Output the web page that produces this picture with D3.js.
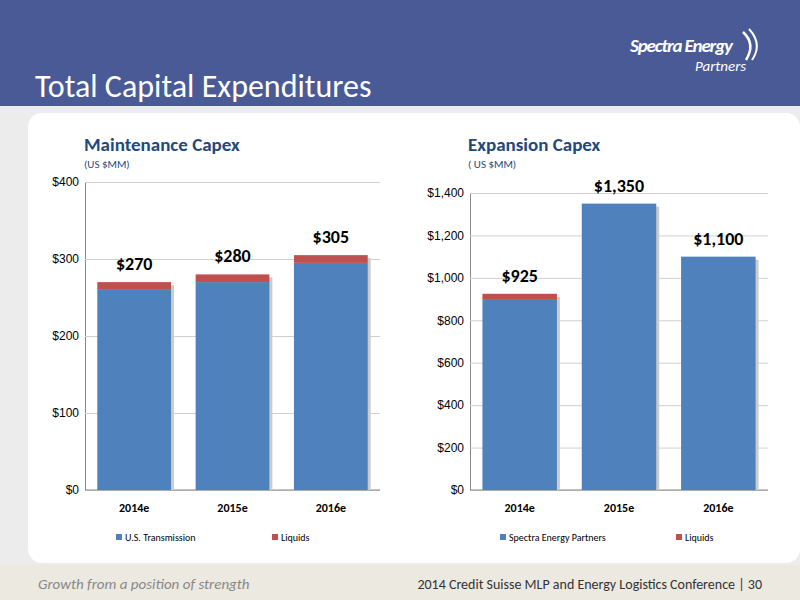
<!DOCTYPE html><html><head><meta charset="utf-8"><script src="https://cdn.jsdelivr.net/npm/d3@7"></script>
<style>body{margin:0}svg{font-family:Calibri,"Liberation Sans Narrow","Open Sans",sans-serif}</style></head><body><svg id="c" width="800" height="600"></svg>
<script>
const years=["2014e","2015e","2016e"];
const maintTrans=[260,270,295], maintLiq=[10,10,10], maintTot=["$270","$280","$305"];
const expSEP=[900,1350,1100], expLiq=[25,0,0], expTot=["$925","$1,350","$1,100"];
const maintTicks=[0,100,200,300,400], expTicks=[0,200,400,600,800,1000,1200,1400];
const blue="#4f81bd", red="#c0504d";
const svg=d3.select("#c");
svg.append("rect").attr("width",800).attr("height",600).attr("fill","#ececec");
svg.append("rect").attr("width",800).attr("height",106).attr("fill","#4a5a97");
svg.append("rect").attr("x",28).attr("y",113).attr("width",772).attr("height",450).attr("rx",14).attr("fill","#fff");
svg.append("rect").attr("x",0).attr("y",565).attr("width",800).attr("height",35).attr("fill","#ece9e1");
svg.append("text").attr("x",35).attr("y",97).attr("fill","#fff").attr("font-size",32).text("Total Capital Expenditures");
svg.append("text").attr("x",630).attr("y",52).attr("fill","#fff").attr("font-size",19).attr("font-style","italic").attr("font-weight","bold").attr("textLength",103).text("Spectra Energy");
svg.append("text").attr("x",695).attr("y",71).attr("fill","#fff").attr("font-size",15).attr("font-style","italic").text("Partners");
svg.append("path").attr("d","M743,32 Q756,44 746,60").attr("stroke","#fff").attr("stroke-width",2.5).attr("fill","none");
svg.append("path").attr("d","M749,29 Q763,44 752,60").attr("stroke","#fff").attr("stroke-width",2).attr("fill","none");
svg.append("text").attr("x",38).attr("y",589).attr("fill","#888").attr("font-size",15).attr("font-style","italic").text("Growth from a position of strength");
svg.append("text").attr("x",762).attr("y",589).attr("fill","#333").attr("font-size",14).attr("text-anchor","end").text("2014 Credit Suisse MLP and Energy Logistics Conference |  30");
function chart(o){
 const x=d3.scaleBand().domain(years).range([o.x0,o.x1]).paddingInner(0.25).paddingOuter(0.125);
 const y=d3.scaleLinear().domain([0,o.max]).range([490,o.top]);
 const g=svg.append("g");
 g.append("text").attr("x",o.tx).attr("y",151).attr("fill","#1f497d").attr("font-size",19).attr("font-weight","bold").text(o.title);
 g.append("text").attr("x",o.tx).attr("y",168).attr("fill","#1f497d").attr("font-size",11).text(o.sub);
 g.append("g").attr("transform",`translate(${o.x0},0)`).call(d3.axisLeft(y).tickValues(o.ticks).tickSize(-(o.x1-o.x0)).tickFormat(d=>"$"+d3.format(",")(d)))
  .call(a=>{a.select(".domain").attr("stroke","#888");a.selectAll("line").attr("stroke","#d0d0d0");a.selectAll("text").attr("font-size",12).attr("fill","#000").attr("x",-6);});
 g.append("line").attr("x1",o.x0).attr("x2",o.x1).attr("y1",490).attr("y2",490).attr("stroke","#888");
 years.forEach((yr,i)=>{
  const bx=x(yr),w=x.bandwidth();
  g.append("rect").attr("x",bx+3).attr("y",y(o.a[i]+o.b[i])+3).attr("width",w).attr("height",490-y(o.a[i]+o.b[i])-3).attr("fill","#ccc");
  g.append("rect").attr("x",bx).attr("y",y(o.a[i])).attr("width",w).attr("height",490-y(o.a[i])).attr("fill",blue);
  if(o.b[i]>0)g.append("rect").attr("x",bx).attr("y",y(o.a[i]+o.b[i])).attr("width",w).attr("height",y(o.a[i])-y(o.a[i]+o.b[i])).attr("fill",red);
  g.append("text").attr("x",bx+w/2).attr("y",y(o.a[i]+o.b[i])-o.lo[i]).attr("text-anchor","middle").attr("font-size",18).attr("font-weight","bold").text(o.tot[i]);
  g.append("text").attr("x",bx+w/2).attr("y",512).attr("text-anchor","middle").attr("font-size",12).attr("font-weight","bold").text(yr);
 });
 o.leg.forEach((t,j)=>{
  const lx=o.lx[j];
  g.append("rect").attr("x",lx).attr("y",534).attr("width",6).attr("height",6).attr("fill",[blue,red][j]);
  g.append("text").attr("x",lx+9).attr("y",541).attr("font-size",10).text(t);
 });
}
chart({x0:85,x1:380,top:182,max:400,ticks:maintTicks,a:maintTrans,b:maintLiq,tot:maintTot,lo:[12,12,12],title:"Maintenance Capex",sub:"(US $MM)",tx:84,leg:["U.S. Transmission","Liquids"],lx:[116,272]});
chart({x0:470,x1:768,top:193,max:1400,ticks:expTicks,a:expSEP,b:expLiq,tot:expTot,lo:[12,12,12],title:"Expansion Capex",sub:"( US $MM)",tx:468,leg:["Spectra Energy Partners","Liquids"],lx:[500,676]});
</script></body></html>
